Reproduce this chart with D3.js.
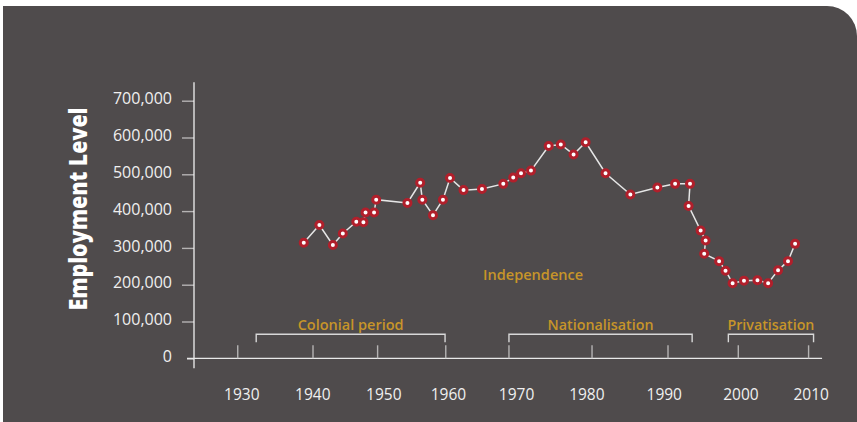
<!DOCTYPE html>
<html>
<head>
<meta charset="utf-8">
<script src="https://cdn.jsdelivr.net/npm/d3@7/dist/d3.min.js"></script>
<style>
  html, body { margin: 0; padding: 0; background: #ffffff; }
  svg { display: block; }
</style>
</head>
<body>
<svg id="chart" width="857" height="422"></svg>
<script>
// ---- Data ----
const years = [1938.7, 1940.9, 1942.8, 1944.2, 1946.1, 1947.1, 1947.4, 1948.6, 1948.9, 1953.3,
  1955.1, 1955.4, 1956.9, 1958.3, 1959.3, 1961.2, 1963.8, 1966.8, 1968.2, 1969.3,
  1970.7, 1973.2, 1974.9, 1976.7, 1978.4, 1981.2, 1984.7, 1988.5, 1991.0, 1993.1,
  1992.9, 1994.6, 1995.3, 1995.1, 1997.2, 1998.1, 1999.1, 2000.7, 2002.6, 2004.1,
  2005.5, 2006.9, 2007.9];
const employment = [314000, 362000, 308000, 339000, 371000, 370000, 396000, 396000, 431000, 422000,
  477000, 431000, 389000, 431000, 490000, 457000, 460000, 474000, 491000, 503000,
  510000, 577000, 581000, 554000, 587000, 503000, 445000, 464000, 474000, 474000,
  414000, 347000, 320000, 284000, 264000, 238000, 204000, 211000, 212000, 204000,
  239000, 264000, 311000];

const yTickValues = [0, 100000, 200000, 300000, 400000, 500000, 600000, 700000];
const xTickLabels = ["1930", "1940", "1950", "1960", "1970", "1980", "1990", "2000", "2010"];
// where each decade label sits on the (hand-drawn) original axis
const xLabelYears = [1929.9, 1939.9, 1949.9, 1959.0, 1968.6, 1978.5, 1989.4, 2000.2, 2010.1];
const xTickMarkYears = [1929.4, 1940, 1949.1, 1958.7, 1967.6, 1979.3, 1990, 1999.9, 2009.8];

const periodNames = ["Colonial period", "Nationalisation", "Privatisation"];
const periodStarts = [1932.0, 1967.6, 1998.5];
const periodEnds = [1958.6, 1993.4, 2010.5];
const periodLabelWidths = [106, 106, 87];

const eventName = "Independence";
const eventYear = 1971;
const eventLevel = 215000;

const yTitle = "Employment Level";

// ---- Setup ----
const svg = d3.select("#chart");
const W = 857, H = 422;
const bg = "#4f4b4c";
const gold = "#c79529";
const red = "#b11f2b";
const font = "'Open Sans', 'Noto Sans', sans-serif";

// panel with rounded top-right corner
const px0 = 3, py0 = 6, r = 30;
svg.append("path")
  .attr("d", `M${px0},${py0} H${W - r} A${r},${r} 0 0 1 ${W},${py0 + r} V${H} H${px0} Z`)
  .attr("fill", bg);

const x = d3.scaleLinear().domain([1930, 2010]).range([242, 810]);
const y = d3.scaleLinear().domain([0, 700000]).range([358.3, 100.7]);

// ---- Y axis ----
const yAxis = d3.axisLeft(y)
  .tickValues(yTickValues)
  .tickSize(12)
  .tickPadding(10)
  .tickFormat(d3.format(","));
const gy = svg.append("g").attr("transform", `translate(194,0)`).call(yAxis);
gy.select(".domain").remove();
gy.selectAll(".tick line").attr("stroke", "#b5b3b3").attr("stroke-width", 1.4);
gy.selectAll(".tick text")
  .attr("fill", "#efefef")
  .attr("font-family", font)
  .attr("font-size", "16px")
  .attr("dy", "0.2em");
gy.select(".tick:first-of-type line").attr("stroke", "#e8e8e8").attr("x2", -7).attr("x1", 0);

// y axis line
svg.append("line")
  .attr("x1", 194).attr("x2", 194)
  .attr("y1", y(700000) - 18.5).attr("y2", y(0) + 10)
  .attr("stroke", "#f0f0f0").attr("stroke-width", 1.3);

// ---- X axis ----
svg.append("line")
  .attr("x1", 187).attr("x2", x(2011.7))
  .attr("y1", y(0)).attr("y2", y(0))
  .attr("stroke", "#e8e8e8").attr("stroke-width", 1.3);

const xAxis = d3.axisBottom(x).tickValues(xLabelYears).tickSize(0)
  .tickFormat((d, i) => xTickLabels[i]);
const gx = svg.append("g").attr("transform", `translate(0,${y(0)})`).call(xAxis);
gx.select(".domain").remove();
gx.selectAll(".tick text")
  .attr("fill", "#f0f0f0")
  .attr("font-family", font)
  .attr("font-size", "15.5px")
  .attr("y", 41.7)
  .attr("dy", 0);

svg.append("g").selectAll("line")
  .data(xTickMarkYears)
  .join("line")
  .attr("x1", d => x(d)).attr("x2", d => x(d))
  .attr("y1", y(0) - 13).attr("y2", y(0))
  .attr("stroke", "#b5b3b3").attr("stroke-width", 1.4);

// ---- Period brackets ----
const bTop = 334.3, bBot = 342.3;
const periods = svg.append("g");
periodNames.forEach((name, i) => {
  const a = x(periodStarts[i]), b = x(periodEnds[i]);
  periods.append("path")
    .attr("d", `M${a},${bBot} V${bTop} H${b} V${bBot}`)
    .attr("fill", "none")
    .attr("stroke", "#d8d8d8")
    .attr("stroke-width", 1.4);
  periods.append("text")
    .attr("x", (a + b) / 2)
    .attr("y", 329.5)
    .attr("text-anchor", "middle")
    .attr("fill", gold)
    .attr("font-family", font)
    .attr("font-weight", 600)
    .attr("font-size", "15px")
    .attr("textLength", periodLabelWidths[i])
    .attr("lengthAdjust", "spacingAndGlyphs")
    .text(name);
});

// Independence annotation
svg.append("text")
  .attr("x", x(eventYear))
  .attr("y", y(eventLevel) + 1)
  .attr("text-anchor", "middle")
  .attr("fill", gold)
  .attr("font-family", font)
  .attr("font-weight", 600)
  .attr("font-size", "15px")
  .attr("textLength", 100)
  .attr("lengthAdjust", "spacingAndGlyphs")
  .text(eventName);

// ---- Y title ----
svg.append("text")
  .attr("transform", `translate(87,209) rotate(-90)`)
  .attr("text-anchor", "middle")
  .attr("fill", "#ffffff")
  .attr("font-family", font)
  .attr("font-weight", 800)
  .attr("font-size", "25px")
  .attr("textLength", 203)
  .attr("lengthAdjust", "spacingAndGlyphs")
  .text(yTitle);

// ---- Line + markers ----
const pts = years.map((yr, i) => [yr, employment[i]]);
const line = d3.line().x(d => x(d[0])).y(d => y(d[1]));
svg.append("path")
  .datum(pts)
  .attr("d", line)
  .attr("fill", "none")
  .attr("stroke", "#e6e6e6")
  .attr("stroke-width", 1.5);

svg.append("g").selectAll("circle")
  .data(pts)
  .join("circle")
  .attr("cx", d => x(d[0]))
  .attr("cy", d => y(d[1]))
  .attr("r", 3.5)
  .attr("fill", "#ffffff")
  .attr("stroke", red)
  .attr("stroke-width", 3);
</script>
</body>
</html>
